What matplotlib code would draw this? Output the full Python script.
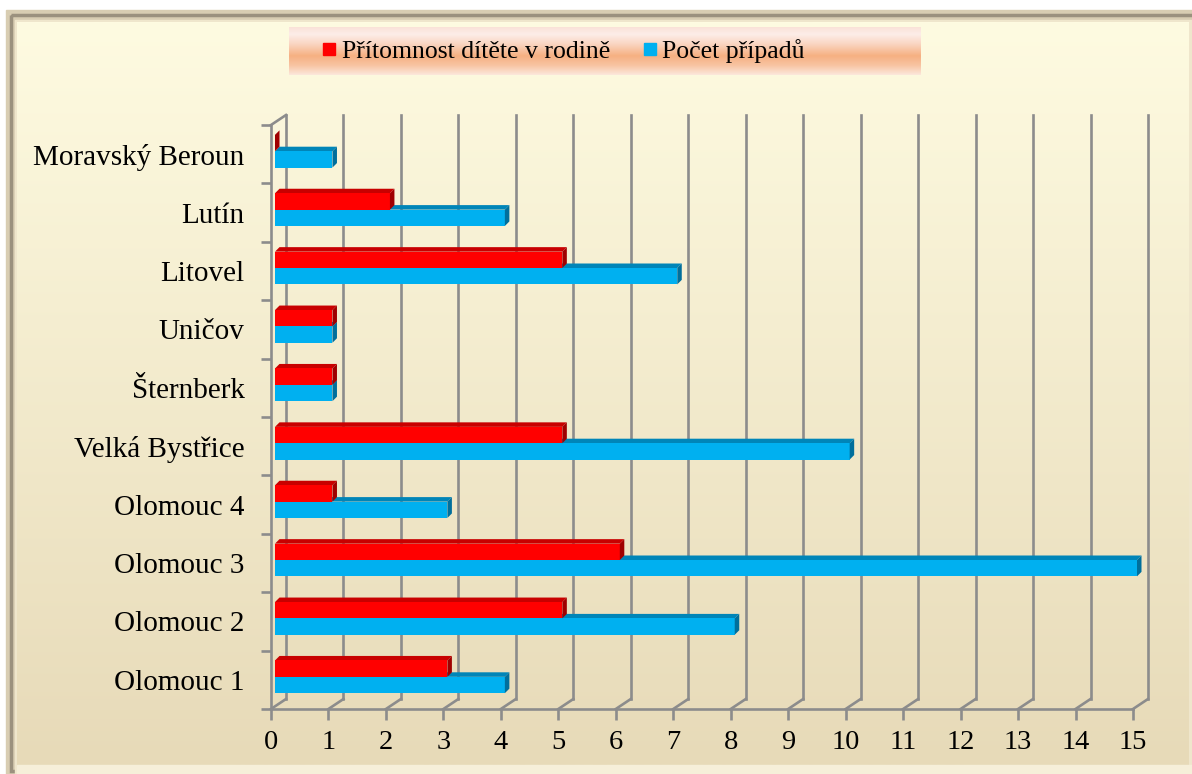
import numpy as np
import matplotlib

matplotlib.use("Agg")
import matplotlib.pyplot as plt
from matplotlib.patches import Polygon, Rectangle
from matplotlib.lines import Line2D

plt.rcParams["font.family"] = ["Liberation Serif", "DejaVu Serif"]

# data, bottom category first
towns = ["Olomouc 1", "Olomouc 2", "Olomouc 3", "Olomouc 4", "Velká Bystřice",
         "Šternberk", "Uničov", "Litovel", "Lutín", "Moravský Beroun"]
present = [3, 5, 6, 1, 5, 1, 1, 5, 2, 0]
cases = [4, 8, 15, 3, 10, 1, 1, 7, 4, 1]
series_names = ["Přítomnost dítěte v rodině", "Počet případů"]
xticks = list(range(16))

W, H = 1192, 774
fig = plt.figure(figsize=(W / 100, H / 100), dpi=100)

# background frame + cream gradient (pixel coords)
bg = fig.add_axes([0, 0, 1, 1])
bg.axis("off")
bg.add_patch(Rectangle((6, 10), W - 6, H - 10, color="#d8cdb2", zorder=0))
bg.add_patch(Rectangle((11, 15), W + 10, H - 18, fill=False, ec="#9b917e", lw=2.5, zorder=1))
bg.add_patch(Rectangle((15, 20), W - 15, H - 20, color="#efe6cc", zorder=1))
top_c = np.array([254, 251, 225]) / 255
bot_c = np.array([231, 218, 184]) / 255
t = np.linspace(0, 1, 256)[:, None]
grad = (top_c * (1 - t) + bot_c * t)[:, None, :]
bg.imshow(grad, extent=[17, W - 3, 765, 22], aspect="auto", zorder=2)
bg.add_patch(Rectangle((17, 765), W - 17, 9, color="#f6efd9", zorder=2))

# legend background
stops = [(0.0, (250, 226, 216)), (0.15, (253, 237, 232)), (0.35, (250, 214, 194)),
         (0.6, (246, 176, 130)), (0.8, (248, 196, 162)), (1.0, (252, 232, 220))]
pos = [s[0] for s in stops]
cols = np.array([s[1] for s in stops]) / 255
lg = np.stack([np.interp(t[:, 0], pos, cols[:, k]) for k in range(3)], axis=1)[:, None, :]
bg.imshow(lg, extent=[289, 921, 75, 27], aspect="auto", zorder=3)
bg.set_xlim(0, W)
bg.set_ylim(H, 0)

# main axes = front plane of the 3D plot
ax = fig.add_axes([271 / W, 1 - 709 / H, 862 / W, 584 / H])
ax.set_xlim(0, 15)
ax.set_ylim(0, 10)
ax.patch.set_visible(False)
for s in ax.spines.values():
    s.set_visible(False)

px_x = 15 / 862  # data units per pixel
px_y = 10 / 584
wall_dx, wall_dy = 15 * px_x, 10 * px_y
gray = "#8c8c8c"

for v in xticks:
    ax.plot([v + wall_dx] * 2, [wall_dy, 10 + wall_dy], color=gray, lw=1.9, clip_on=False, zorder=1)
    ax.plot([v, v + wall_dx], [0, wall_dy], color=gray, lw=1.9, clip_on=False, zorder=1)
ax.plot([0, wall_dx], [10, 10 + wall_dy], color=gray, lw=1.9, clip_on=False, zorder=1)
ax.plot([0, 0], [0, 10], color=gray, lw=1.9, clip_on=False, zorder=1)
ax.plot([0, 15], [0, 0], color=gray, lw=1.9, clip_on=False, zorder=1)

# bars with 3D faces
front_dx, front_dy = 4 * px_x, 3 * px_y
depth_dx, depth_dy = 4.5 * px_x, 4.5 * px_y
bar_h = 0.28
styles = [
    (cases, 0.22, "#00b0f0", "#0085b8", "#006f9c"),
    (present, 0.50, "#ff0000", "#c80000", "#a00000"),
]
for vals, off, c_front, c_top, c_side in styles:
    for i, v in enumerate(vals):
        y0 = i + off + front_dy
        y1 = y0 + bar_h
        x0 = front_dx
        x1 = front_dx + v
        ax.add_patch(Polygon([(x0, y1), (x1, y1), (x1 + depth_dx, y1 + depth_dy),
                              (x0 + depth_dx, y1 + depth_dy)], closed=True,
                             fc=c_top, ec="none", zorder=3, clip_on=False))
        bars = ax.barh(y0 + bar_h / 2, v, left=x0, height=bar_h, color=c_front, zorder=4)
        for b in bars:
            b.set_clip_on(False)
        ax.add_patch(Polygon([(x1, y0), (x1, y1), (x1 + depth_dx, y1 + depth_dy),
                              (x1 + depth_dx, y0 + depth_dy)], closed=True,
                             fc=c_side, ec="none", zorder=5, clip_on=False))

# ticks and labels
ax.set_xticks(xticks)
ax.set_xticklabels([str(v) for v in xticks], fontsize=20.5)
ax.tick_params(axis="x", length=8, width=1.9, color=gray, pad=7)
ax.set_yticks(range(11))
ax.set_yticklabels([])
ax.tick_params(axis="y", which="major", length=7, width=1.9, color=gray)
ax.set_yticks(np.arange(10) + 0.5, minor=True)
ax.set_yticklabels(towns, minor=True, fontsize=21)
ax.tick_params(axis="y", which="minor", length=0, pad=19)

handles = [Line2D([], [], ls="none", marker="s", ms=9, color="#ff0000"),
           Line2D([], [], ls="none", marker="s", ms=9, color="#00b0f0")]
fig.legend(handles, series_names, loc="center left", bbox_to_anchor=(321 / W, 1 - 51 / H),
           ncol=2, frameon=False, fontsize=18.5, borderpad=0, borderaxespad=0,
           handlelength=0.6, handletextpad=0.2, columnspacing=1.25)

fig.savefig("out.png", dpi=100)
